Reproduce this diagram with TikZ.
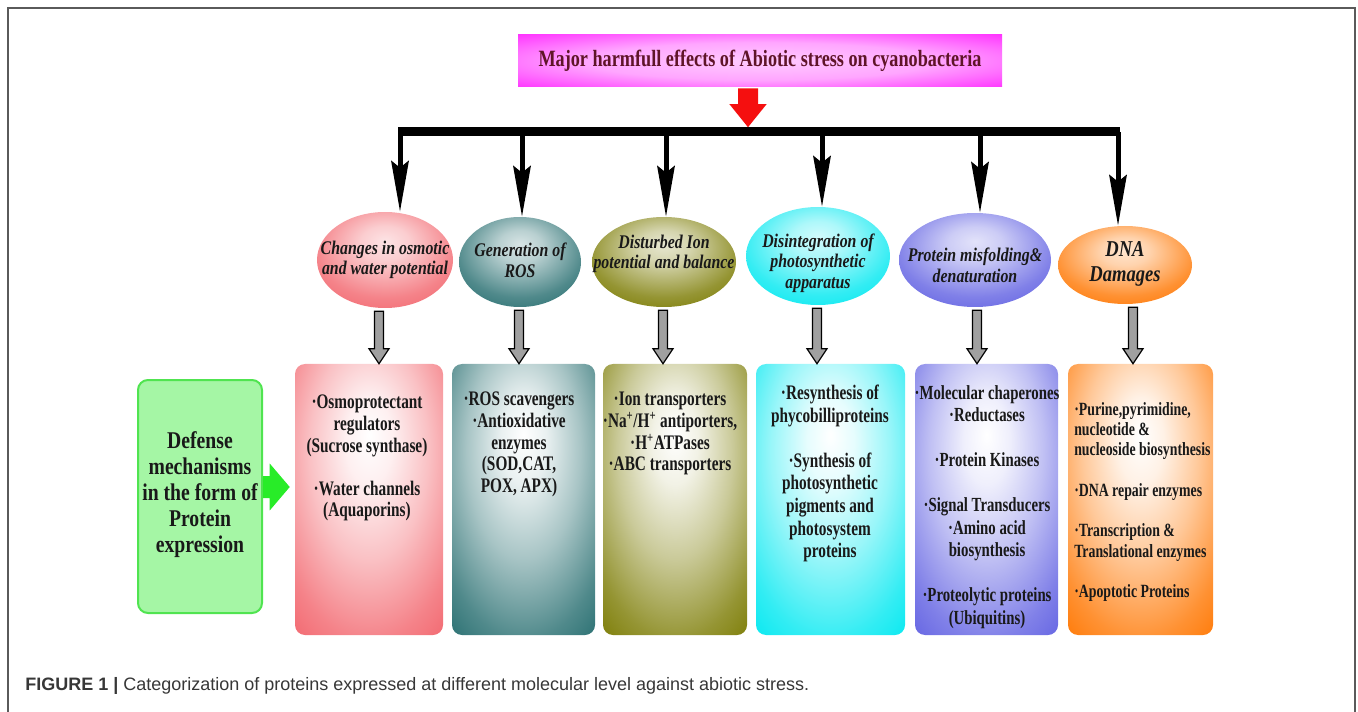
\documentclass[tikz,border=0pt]{standalone}
\usepackage{fontspec}
\setmainfont{Liberation Serif}
\newfontfamily\condf[FakeStretch=0.74,BoldFont={Liberation Serif Bold},ItalicFont={Liberation Serif Italic},BoldItalicFont={Liberation Serif Bold Italic}]{Liberation Serif}
\newfontfamily\condi[FakeStretch=0.82,BoldFont={Liberation Serif Bold},ItalicFont={Liberation Serif Italic},BoldItalicFont={Liberation Serif Bold Italic}]{Liberation Serif}
\newfontfamily\condt[FakeStretch=0.78,BoldFont={Liberation Serif Bold}]{Liberation Serif}
\newfontfamily\capsans{Liberation Sans}
\usetikzlibrary{shapes.geometric,arrows.meta,calc}

\definecolor{pinkC}{RGB}{242,100,108}
\definecolor{tealC}{RGB}{36,108,110}
\definecolor{oliveC}{RGB}{122,122,0}
\definecolor{cyanC}{RGB}{0,232,240}
\definecolor{purpleC}{RGB}{96,96,226}
\definecolor{orangeC}{RGB}{255,118,0}
\definecolor{magentaC}{RGB}{255,0,255}
\definecolor{greenFill}{RGB}{165,246,165}
\definecolor{greenLine}{RGB}{80,228,80}
\definecolor{greenArrow}{RGB}{40,236,40}
\definecolor{grayArrow}{RGB}{160,160,160}
\definecolor{titleText}{RGB}{95,20,40}
\definecolor{frameC}{RGB}{90,90,90}
\definecolor{capC}{RGB}{55,55,55}
\definecolor{redC}{RGB}{245,15,15}

\newcommand\mkboxshade[2]{\pgfdeclareradialshading{#1}{\pgfpoint{0bp}{12bp}}{color(0bp)=(white); color(8bp)=(#2!10!white); color(20bp)=(#2!40!white); color(33bp)=(#2!80!white); color(42bp)=(#2); color(80bp)=(#2)}}
\newcommand\mkellshade[2]{\pgfdeclareradialshading{#1}{\pgfpoint{0bp}{10bp}}{color(0bp)=(#2!18!white); color(9bp)=(#2!32!white); color(26bp)=(#2!80!white); color(38bp)=(#2); color(50bp)=(#2!85!black); color(70bp)=(#2!85!black)}}
\mkboxshade{bshPink}{pinkC}
\mkboxshade{bshTeal}{tealC}
\mkboxshade{bshOlive}{oliveC}
\mkboxshade{bshCyan}{cyanC}
\mkboxshade{bshPurple}{purpleC}
\mkboxshade{bshOrange}{orangeC}
\mkellshade{eshPink}{pinkC}
\mkellshade{eshTeal}{tealC}
\mkellshade{eshOlive}{oliveC}
\mkellshade{eshCyan}{cyanC}
\mkellshade{eshPurple}{purpleC}
\mkellshade{eshOrange}{orangeC}
\pgfdeclareradialshading{tshade}{\pgfpoint{0bp}{0bp}}{color(0bp)=(magentaC!20!white); color(18bp)=(magentaC!35!white); color(34bp)=(magentaC!75!white); color(44bp)=(magentaC); color(80bp)=(magentaC)}

\newcommand\garrow[2]{%
  \filldraw[grayarr] let \p1=(#1), \p2=(#2.north) in
    (\x1-3.4pt,\y1) -- (\x1+3.4pt,\y1) -- (\x1+3.4pt,\y2+11.25pt) -- (\x1+7.5pt,\y2+11.25pt)
    -- (\x1,\y2) -- (\x1-7.5pt,\y2+11.25pt) -- (\x1-3.4pt,\y2+11.25pt) -- cycle;}

\begin{document}
\begin{tikzpicture}[x=0.75pt,y=-0.75pt,
  boxbase/.style={rectangle, rounded corners=7.5pt, minimum height=203.25pt, inner sep=0pt},
  ell/.style={ellipse, inner sep=0pt},
  btext/.style={anchor=north, inner sep=0pt, align=center, text=black!90,
     font=\condf\bfseries\fontsize{15.5}{16.2}\selectfont},
  btextb/.style={btext, font=\condf\bfseries\fontsize{15.5}{16.9}\selectfont},
  etext/.style={inner sep=0pt, align=center, text=black!90,
     font=\condi\bfseries\itshape\fontsize{14.5}{15.5}\selectfont},
  blackarr/.style={line width=3.75pt, -{Stealth[length=38pt,width=13pt,inset=5pt]}},
  grayarr/.style={fill=grayArrow, draw=black, line width=0.9pt, line join=miter},
]
\useasboundingbox (0,0) rectangle (1358,712);
\draw[frameC, line width=1.5pt] (8,712) -- (8,8) -- (1355,8) -- (1355,712);

% title and bar
\node[rectangle, shading=tshade, minimum width=363pt, minimum height=39pt, inner sep=0pt,
  text=titleText, font=\condt\bfseries\fontsize{17.5}{18}\selectfont] (title) at (760,61)
  {Major harmfull effects of Abiotic stress on cyanobacteria};
\node[fill=black, minimum width=541.5pt, minimum height=6.75pt, inner sep=0pt] (bar) at (759,132) {};
\fill[redC] let \p1=($(title.south)+(-12,1)$), \p2=(bar.north) in
  (\x1-7.5pt,\y1) -- (\x1+7.5pt,\y1) -- (\x1+7.5pt,\y2+17.25pt) -- (\x1+13.9pt,\y2+17.25pt)
  -- (\x1,\y2) -- (\x1-13.9pt,\y2+17.25pt) -- (\x1-7.5pt,\y2+17.25pt) -- cycle;

% ellipses
\node[ell, shading=eshPink,   minimum width=102pt,   minimum height=72pt]   (e1) at (385,260) {};
\node[ell, shading=eshTeal,   minimum width=91.5pt,  minimum height=67.5pt] (e2) at (520,262) {};
\node[ell, shading=eshOlive,  minimum width=108pt,   minimum height=67.5pt] (e3) at (664,262) {};
\node[ell, shading=eshCyan,   minimum width=108pt,   minimum height=73.5pt] (e4) at (818,256) {};
\node[ell, shading=eshPurple, minimum width=114pt,   minimum height=70.5pt] (e5) at (975,260) {};
\node[ell, shading=eshOrange, minimum width=100.5pt, minimum height=58.5pt] (e6) at (1125,265) {};

\node[etext] (e1t) at (385,260) {Changes in osmotic\\and water potential};
\node[etext] (e2t) at (520,260) {Generation of\\ROS};
\node[etext] (e3t) at (664,254) {Disturbed Ion\\potential and balance};
\node[etext] (e4t) at (818,263) {Disintegration of\\photosynthetic\\apparatus};
\node[etext] (e5t) at (975,265) {Protein misfolding\&\\denaturation};
\node[etext, font=\condi\bfseries\itshape\fontsize{17}{18.8}\selectfont] (e6t) at (1125,264) {DNA\\Damages};

% black arrows
\coordinate (t1) at (400,132);
\coordinate (t2) at (522,132);
\coordinate (t3) at (666,132);
\coordinate (t4) at (822,132);
\coordinate (t5) at (980,132);
\coordinate (t6) at (1118,132);
\foreach \i in {1,...,6} {\draw[blackarr] (t\i) -- (t\i |- e\i.north);}

% boxes
\node[boxbase, shading=bshPink,   minimum width=111pt]    (b1) at (369,499.5) {};
\node[boxbase, shading=bshTeal,   minimum width=107.25pt] (b2) at (523.5,499.5) {};
\node[boxbase, shading=bshOlive,  minimum width=108pt]    (b3) at (675,499.5) {};
\node[boxbase, shading=bshCyan,   minimum width=111.75pt] (b4) at (830.5,499.5) {};
\node[boxbase, shading=bshPurple, minimum width=107.25pt] (b5) at (986.5,499.5) {};
\node[boxbase, shading=bshOrange, minimum width=108.75pt] (b6) at (1140.5,499.5) {};

\node[btext] (b1t) at (367,395) {·Osmoprotectant\\regulators\\(Sucrose synthase)\\[16.2pt]·Water channels\\(Aquaporins)};
\node[btext] (b2t) at (519,392) {·ROS scavengers\\·Antioxidative\\enzymes\\(SOD,CAT,\\POX, APX)};
\node[btext] (b3t) at (670,392) {·Ion transporters\\·Na\textsuperscript{+}/H\textsuperscript{+} antiporters,\\·H\textsuperscript{+}ATPases\\·ABC transporters};
\node[btextb] (b4t) at (830,385) {·Resynthesis of\\phycobilliproteins\\[16.9pt]·Synthesis of\\photosynthetic\\pigments and\\photosystem\\proteins};
\node[btextb, font=\condf\bfseries\fontsize{15}{16.9}\selectfont] (b5t) at (987,385) {·Molecular chaperones\\·Reductases\\[16.9pt]·Protein Kinases\\[16.9pt]·Signal Transducers\\·Amino acid\\biosynthesis\\[16.9pt]·Proteolytic proteins\\(Ubiquitins)};
\node[btext, anchor=north west, align=left, font=\condf\bfseries\fontsize{14}{15.2}\selectfont] (b6t) at (1074,402)
  {·Purine,pyrimidine,\\nucleotide \&\\nucleoside biosynthesis\\[15.2pt]·DNA repair enzymes\\[15.2pt]·Transcription \&\\Translational enzymes\\[15.2pt]·Apoptotic Proteins};

% gray hollow arrows
\garrow{$(e1.south)+(-6,3)$}{b1}
\garrow{$(e2.south)+(-1,3)$}{b2}
\garrow{$(e3.south)+(-1,3)$}{b3}
\garrow{$(e4.south)+(-1,3)$}{b4}
\garrow{$(e5.south)+(2,3)$}{b5}
\garrow{$(e6.south)+(8,3)$}{b6}

% defense box
\node[rectangle, rounded corners=7.5pt, fill=greenFill, draw=greenLine, line width=1.5pt,
  minimum width=93pt, minimum height=174.75pt, inner sep=0pt] (gbox) at (200,496.5) {};
\node[inner sep=0pt, align=center, text=black!90, font=\condi\bfseries\fontsize{18}{19.5}\selectfont] (gt) at (200,495)
  {Defense\\mechanisms\\in the form of\\Protein\\expression};
\fill[greenArrow] let \p1=($(gbox.east)+(0,-9.5)$), \p2=(b1.west) in
  (\x1,\y1-8.25pt) -- (\x2-18.75pt,\y1-8.25pt) -- (\x2-18.75pt,\y1-17.6pt) -- (\x2-3.75pt,\y1)
  -- (\x2-18.75pt,\y1+17.6pt) -- (\x2-18.75pt,\y1+8.25pt) -- (\x1,\y1+8.25pt) -- cycle;

% caption
\node[anchor=base west, inner sep=0pt, text=capC, font=\capsans\fontsize{13.5}{15}\selectfont] (cap) at (25,690)
  {\textbf{FIGURE 1 |} Categorization of proteins expressed at different molecular level against abiotic stress.};
\end{tikzpicture}
\end{document}
